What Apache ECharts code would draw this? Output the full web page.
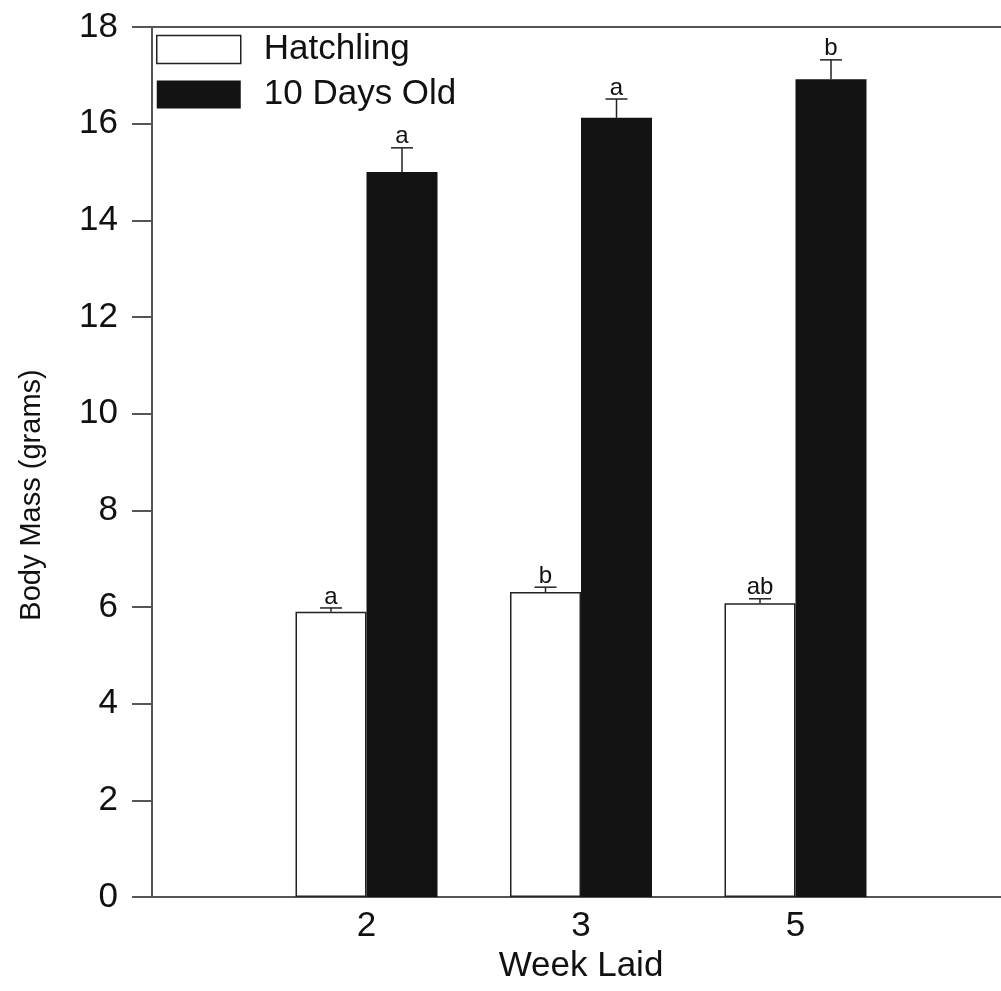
<!DOCTYPE html>
<html>
<head>
<meta charset="utf-8">
<script src="https://cdn.jsdelivr.net/npm/echarts@6/dist/echarts.min.js"></script>
<style>html,body{margin:0;padding:0;background:#fff;}#c{width:1001px;height:991px;}</style>
</head>
<body>
<div id="c"></div>
<script>
var categories = ['2', '3', '5'];
var hatchling = [5.9, 6.31, 6.08];
var hatchErr = [0.08, 0.1, 0.09];
var tenDay = [15.0, 16.12, 16.92];
var tenErr = [0.5, 0.39, 0.4];
var hatchLetters = ['a', 'b', 'ab'];
var tenLetters = ['a', 'a', 'b'];
var yTicks = [0, 2, 4, 6, 8, 10, 12, 14, 16, 18];

var FONT = 'Liberation Sans, Arial, sans-serif';
var BAR_W = 71;
var axisData = [''].concat(categories).concat(['']);
function pad(arr) { return [null].concat(arr).concat([null]); }

function errSeries(vals, errs, letters, offset) {
  var data = vals.map(function (v, i) { return [i + 1, v, errs[i], letters[i]]; });
  return {
    type: 'custom',
    z: 5,
    data: data,
    renderItem: function (params, api) {
      var idx = api.value(0);
      var top = api.coord([idx, api.value(1)]);
      var cap = api.coord([idx, api.value(1) + api.value(2)]);
      var x = top[0] + offset;
      var half = 11;
      return {
        type: 'group',
        children: [
          { type: 'line', shape: { x1: x, y1: top[1], x2: x, y2: cap[1] }, style: { stroke: '#222', lineWidth: 1.5 } },
          { type: 'line', shape: { x1: x - half, y1: cap[1], x2: x + half, y2: cap[1] }, style: { stroke: '#222', lineWidth: 1.5 } },
          { type: 'text', style: { text: letters[idx - 1], x: x, y: cap[1] + 1, textAlign: 'center', textVerticalAlign: 'bottom', fontSize: 24, fontFamily: FONT, fill: '#111' } }
        ]
      };
    }
  };
}

var chart = echarts.init(document.getElementById('c'));
chart.setOption({
  backgroundColor: '#fff',
  animation: false,
  grid: { left: 152, width: 858, top: 27, height: 870, containLabel: false, outerBoundsMode: 'none' },
  legend: {
    left: 151, top: 27, orient: 'vertical', itemWidth: 84, itemHeight: 28, itemGap: 10,
    textStyle: { fontSize: 35, fontFamily: FONT, color: '#111', padding: [0, 0, 0, 18] },
    data: [
      { name: 'Hatchling', icon: 'rect', itemStyle: { color: '#fff', borderColor: '#222', borderWidth: 1.5 } },
      { name: '10 Days Old', icon: 'rect', itemStyle: { color: '#131313' } }
    ]
  },
  xAxis: [
    {
      type: 'category', data: axisData, boundaryGap: false,
      axisLine: { lineStyle: { color: '#555', width: 2 } },
      axisTick: { show: false },
      axisLabel: { fontSize: 35, fontFamily: FONT, color: '#111', margin: 12 },
      name: 'Week Laid', nameLocation: 'middle', nameGap: 44,
      nameTextStyle: { fontSize: 35, fontFamily: FONT, color: '#111' }
    },
    {
      type: 'category', data: axisData, boundaryGap: false, position: 'top',
      axisLine: { lineStyle: { color: '#555', width: 2 } },
      axisTick: { show: false }, axisLabel: { show: false }
    }
  ],
  yAxis: {
    type: 'value', min: 0, max: 18, interval: 2,
    axisLine: { show: true, lineStyle: { color: '#555', width: 2 } },
    axisTick: { show: true, inside: false, length: 20, lineStyle: { color: '#555', width: 2 } },
    splitLine: { show: false },
    axisLabel: { fontSize: 35, fontFamily: FONT, color: '#111', margin: 34,
      formatter: function (v) { return yTicks.indexOf(v) >= 0 ? String(v) : ''; } },
    name: 'Body Mass (grams)', nameLocation: 'middle', nameGap: 106,
    nameTextStyle: { fontSize: 29, fontFamily: FONT, color: '#111', padding: [0, 66, 0, 0] }
  },
  series: [
    {
      name: 'Hatchling', type: 'bar', data: pad(hatchling), barWidth: BAR_W, barGap: '0%',
      itemStyle: { color: '#fff', borderColor: '#222', borderWidth: 1.5 }
    },
    {
      name: '10 Days Old', type: 'bar', data: pad(tenDay), barWidth: BAR_W, barGap: '0%',
      itemStyle: { color: '#131313' }
    },
    errSeries(hatchling, hatchErr, hatchLetters, -BAR_W / 2),
    errSeries(tenDay, tenErr, tenLetters, BAR_W / 2)
  ]
});
</script>
</body>
</html>
